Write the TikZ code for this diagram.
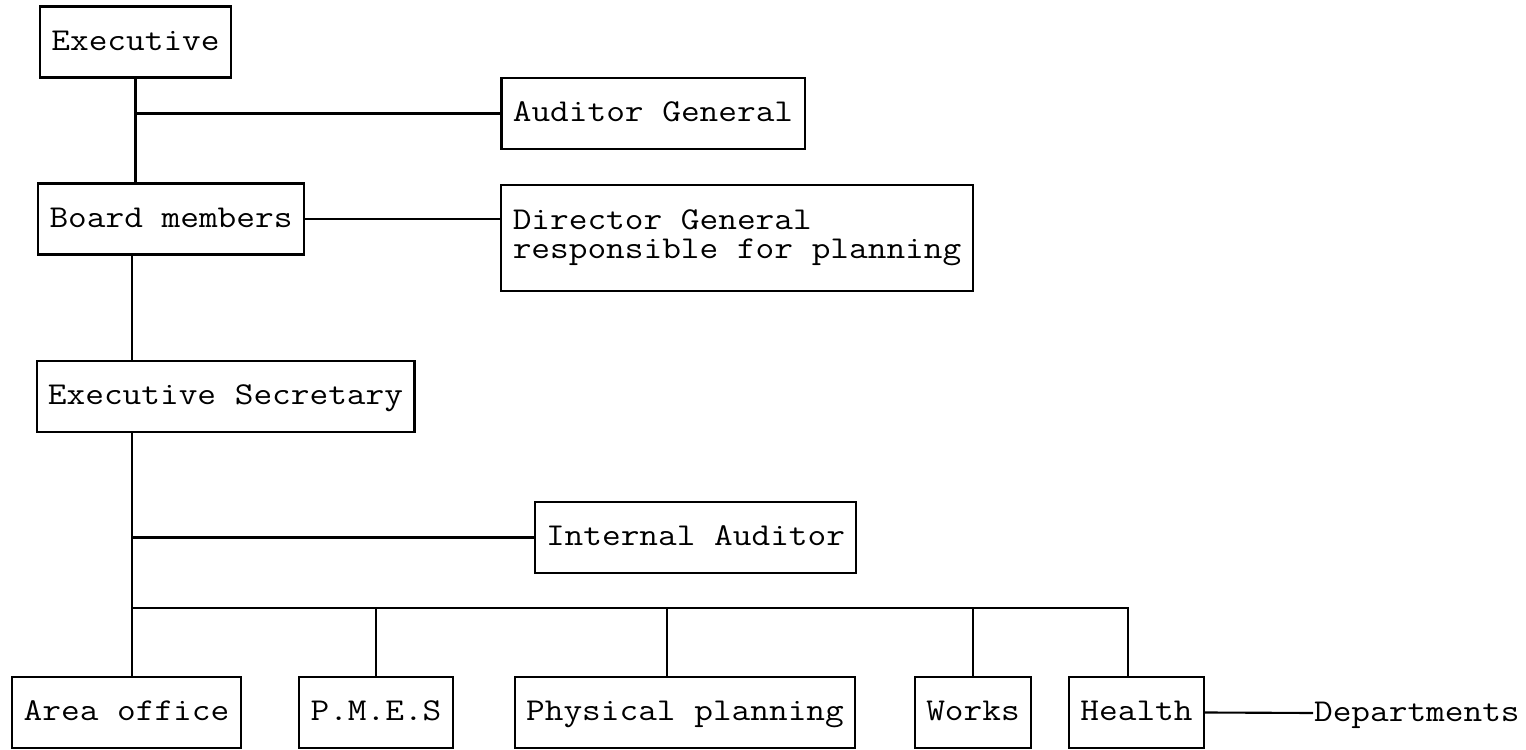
\documentclass[tikz,border=0pt]{standalone}
\usepackage{fontspec}
\setmonofont{Latin Modern Mono}[FakeStretch=1.14]
\begin{document}
\begin{tikzpicture}[x=0.377pt,y=-0.377pt,line width=0.8pt,
				every node/.style={draw,line width=0.8pt,font=\ttfamily\fontsize{12}{11}\selectfont,
					minimum height=26.8pt,inner xsep=4.3pt,text height=1.42ex,text depth=0ex},
				freetext/.style={draw=none,inner sep=0pt,minimum height=0pt}]
\useasboundingbox (0,0) rectangle (1526,750);
\node (exec) at (135.5,42) {Executive};
\node (aud) at (653,113.5) {Auditor General};
\node (board) at (171,219) {Board members};
\node[align=left,minimum height=40pt,text height=,text depth=] (dir) at (737,238) {Director General\\responsible for planning};
\node (sec) at (225.5,396.5) {Executive Secretary};
\node (ia) at (695.5,537.5) {Internal Auditor};
\node (area) at (126.5,712.5) {Area office};
\node (pmes) at (376,712.5) {P.M.E.S};
\node (phys) at (685,712.5) {Physical planning};
\node (works) at (973,712.5) {Works};
\node (health) at (1136.5,712.5) {Health};
\node[freetext,anchor=west] (dept) at (1313,713) {Departments};
\coordinate (trunk) at (132,0);
\coordinate (bus) at (132,608);
\draw (exec.south) -- (exec.south |- board.north);
\draw (exec.south |- aud.west) -- (aud.west);
\draw (board.east) -- (board.east -| dir.west);
\draw (trunk |- board.south) -- (trunk |- sec.north);
\draw (trunk |- sec.south) -- (trunk |- area.north);
\draw (trunk |- ia.west) -- (ia.west);
\draw (bus) -| ([xshift=-3.2pt]health.north);
\draw (pmes.north) -- (pmes.north |- bus);
\draw ([xshift=-6.8pt]phys.north) -- ([xshift=-6.8pt]phys.north |- bus);
\draw (works.north) -- (works.north |- bus);
\draw (health.east) -- (dept.west);
\end{tikzpicture}
\end{document}
